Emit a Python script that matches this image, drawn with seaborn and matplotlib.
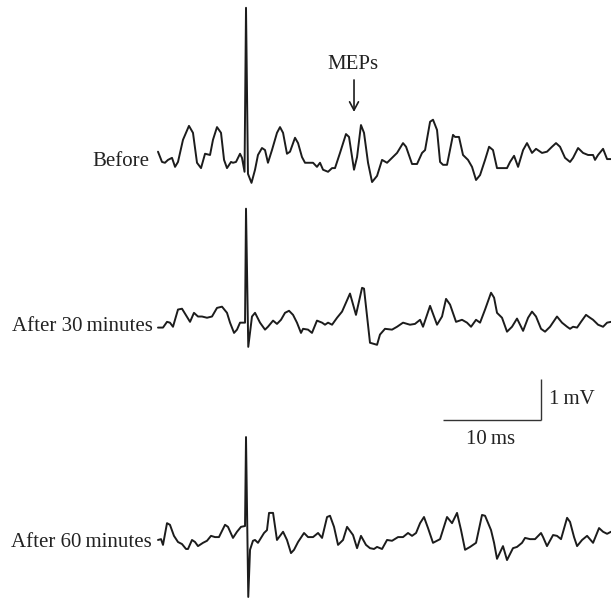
import numpy as np
import pandas as pd
import matplotlib
matplotlib.use("Agg")
import matplotlib.pyplot as plt
import seaborn as sns

# Recorded traces: time (ms, stimulus artefact at 0) and amplitude (mV)
before_t = [-8.98, -8.57, -8.27, -7.96, -7.55, -7.24, -6.94, -6.43, -5.82, -5.41,
            -5.00, -4.59, -4.18, -3.67, -3.37, -2.96, -2.55, -2.24, -1.94, -1.53,
            -1.33, -1.02, -0.61, -0.41, -0.15, 0.00, 0.20, 0.56, 0.92, 1.22,
            1.63, 1.94, 2.24, 2.65, 3.16, 3.47, 3.78, 4.18, 4.49, 5.00,
            5.31, 5.71, 6.02, 6.53, 6.84, 7.24, 7.55, 7.86, 8.37, 8.78,
            9.08, 9.59, 10.20, 10.51, 11.02, 11.33, 11.73, 12.04, 12.45, 12.86,
            13.37, 13.88, 14.39, 14.90, 15.41, 16.02, 16.33, 16.94, 17.45, 17.96,
            18.27, 18.78, 19.08, 19.49, 19.80, 20.10, 20.51, 21.12, 21.33, 21.73,
            22.14, 22.65, 23.06, 23.47, 23.88, 24.39, 24.80, 25.20, 25.61, 26.12,
            26.63, 26.94, 27.35, 27.76, 28.27, 28.67, 29.18, 29.59, 30.20, 30.71,
            31.22, 31.63, 32.04, 32.55, 33.06, 33.37, 33.88, 34.39, 34.90, 35.41,
            35.61, 35.92, 36.43, 36.84, 37.24]
before_v = [0.20, -0.05, -0.07, 0.00, 0.05, -0.17, -0.05, 0.49, 0.83, 0.66,
            -0.07, -0.20, 0.15, 0.12, 0.49, 0.80, 0.66, 0.00, -0.20, -0.05,
            -0.07, -0.05, 0.15, 0.05, -0.29, 3.71, -0.34, -0.56, -0.24, 0.12,
            0.29, 0.24, -0.07, 0.24, 0.66, 0.80, 0.66, 0.15, 0.20, 0.54,
            0.41, 0.07, -0.07, -0.07, -0.07, -0.17, -0.07, -0.24, -0.29, -0.20,
            -0.20, 0.17, 0.63, 0.56, -0.24, 0.07, 0.85, 0.66, -0.07, -0.54,
            -0.39, 0.00, -0.07, 0.05, 0.17, 0.41, 0.32, -0.10, -0.10, 0.17,
            0.24, 0.93, 0.98, 0.73, -0.05, -0.12, -0.12, 0.61, 0.56, 0.56,
            0.12, 0.00, -0.17, -0.49, -0.37, 0.00, 0.32, 0.24, -0.20, -0.20,
            -0.20, -0.05, 0.10, -0.17, 0.24, 0.41, 0.17, 0.27, 0.17, 0.20,
            0.32, 0.41, 0.32, 0.05, -0.05, 0.05, 0.29, 0.17, 0.12, 0.12,
            0.00, 0.12, 0.27, 0.02, 0.02]

after30_t = [-8.98, -8.47, -8.06, -7.76, -7.45, -6.94, -6.53, -5.71, -5.31, -4.90,
             -4.49, -3.98, -3.47, -2.96, -2.45, -1.94, -1.63, -1.22, -0.92, -0.61,
             -0.10, 0.00, 0.23, 0.61, 0.92, 1.43, 1.94, 2.24, 2.76, 3.16,
             3.57, 3.98, 4.39, 4.80, 5.20, 5.61, 5.82, 6.33, 6.73, 7.24,
             7.76, 8.06, 8.37, 8.78, 9.29, 9.80, 10.61, 11.22, 11.84, 12.04,
             12.65, 13.37, 13.67, 14.18, 14.90, 15.41, 16.02, 16.73, 17.24, 17.76,
             18.06, 18.78, 19.49, 20.00, 20.41, 20.82, 21.43, 22.04, 22.55, 22.96,
             23.47, 23.88, 24.39, 25.00, 25.31, 25.61, 26.12, 26.63, 27.14, 27.65,
             27.96, 28.27, 28.78, 29.18, 29.59, 30.10, 30.51, 31.02, 31.73, 32.24,
             32.76, 33.06, 33.37, 33.78, 34.18, 34.69, 35.10, 35.41, 35.92, 36.43,
             36.84, 37.24]
after30_v = [-0.07, -0.07, 0.07, 0.05, -0.05, 0.37, 0.39, 0.07, 0.29, 0.20,
             0.20, 0.17, 0.20, 0.41, 0.44, 0.29, 0.05, -0.20, -0.12, 0.05,
             0.05, 2.83, -0.54, 0.20, 0.29, 0.05, -0.12, -0.05, 0.10, 0.02,
             0.12, 0.29, 0.34, 0.24, 0.05, -0.20, -0.10, -0.12, -0.20, 0.10,
             0.05, 0.00, 0.05, 0.00, 0.17, 0.32, 0.76, 0.24, 0.90, 0.88,
             -0.44, -0.49, -0.24, -0.10, -0.12, -0.05, 0.05, 0.00, 0.02, 0.12,
             -0.05, 0.46, 0.00, 0.20, 0.63, 0.49, 0.07, 0.12, 0.05, -0.05,
             0.12, 0.05, 0.37, 0.78, 0.66, 0.29, 0.17, -0.17, -0.05, 0.15,
             0.00, -0.15, 0.17, 0.32, 0.20, -0.10, -0.17, -0.05, 0.20, 0.05,
             -0.05, -0.10, -0.05, -0.07, 0.07, 0.24, 0.17, 0.12, 0.00, -0.05,
             0.05, 0.07]

after60_t = [-8.98, -8.67, -8.47, -8.06, -7.76, -7.35, -6.94, -6.53, -6.12, -5.92,
             -5.51, -5.20, -4.90, -4.39, -3.98, -3.57, -3.16, -2.76, -2.14, -1.84,
             -1.33, -0.92, -0.51, -0.10, 0.00, 0.23, 0.41, 0.71, 0.92, 1.22,
             1.84, 2.14, 2.35, 2.76, 3.16, 3.78, 4.18, 4.59, 4.90, 5.31,
             5.92, 6.33, 6.84, 7.35, 7.76, 8.27, 8.57, 8.98, 9.39, 9.90,
             10.31, 10.92, 11.33, 11.73, 12.24, 12.65, 13.06, 13.37, 13.88, 14.39,
             14.90, 15.51, 16.02, 16.53, 16.94, 17.35, 17.76, 18.16, 18.57, 19.08,
             19.80, 20.51, 21.02, 21.53, 21.94, 22.35, 22.86, 23.47, 24.08, 24.39,
             25.00, 25.31, 25.61, 26.22, 26.63, 27.24, 27.65, 28.16, 28.47, 28.98,
             29.49, 30.10, 30.31, 30.71, 31.33, 31.73, 32.14, 32.76, 33.06, 33.47,
             33.78, 34.29, 34.80, 35.41, 36.02, 36.43, 36.84, 37.24]
after60_v = [0.00, 0.02, -0.12, 0.41, 0.37, 0.10, -0.05, -0.10, -0.22, -0.22,
             0.00, -0.05, -0.15, -0.07, -0.02, 0.10, 0.07, 0.07, 0.37, 0.32,
             0.05, 0.20, 0.32, 0.34, 2.51, -1.39, -0.24, -0.02, 0.00, -0.07,
             0.17, 0.24, 0.66, 0.66, 0.00, 0.20, 0.00, -0.32, -0.24, -0.05,
             0.17, 0.07, 0.07, 0.17, 0.05, 0.56, 0.59, 0.32, -0.12, 0.00,
             0.32, 0.12, -0.20, 0.10, -0.12, -0.20, -0.22, -0.17, -0.22, 0.00,
             -0.02, 0.07, 0.07, 0.17, 0.10, 0.17, 0.41, 0.56, 0.29, -0.07,
             0.02, 0.56, 0.41, 0.66, 0.24, -0.24, -0.17, -0.07, 0.61, 0.59,
             0.24, -0.07, -0.46, -0.15, -0.49, -0.20, -0.17, -0.07, 0.05, 0.02,
             0.02, 0.17, 0.07, -0.15, 0.12, 0.10, 0.02, 0.54, 0.44, 0.07,
             -0.15, 0.00, 0.10, -0.07, 0.29, 0.20, 0.15, 0.20]

trace_labels = ["Before", "After 30\u2009minutes", "After 60\u2009minutes"]
scale_time_ms = 10
scale_amp_mv = 1

# vertical stacking of the three recordings (mV)
offsets = [0.0, -4.02, -9.27]

sns.set_style("white")
plt.rcParams["font.family"] = ["Liberation Serif", "DejaVu Serif"]

frames = []
for label, t, v, off in zip(trace_labels,
                            [before_t, after30_t, after60_t],
                            [before_v, after30_v, after60_v],
                            offsets):
    frames.append(pd.DataFrame({"time": t,
                                "amp": np.asarray(v) + off,
                                "trace": label}))
df = pd.concat(frames, ignore_index=True)

fig = plt.figure(figsize=(6.11, 5.99), dpi=100)
ax = fig.add_axes([0, 0, 1, 1])

sns.lineplot(data=df, x="time", y="amp", units="trace", estimator=None,
             sort=False, color="#1c1c1c", linewidth=1.4, ax=ax, legend=False)
for line in ax.get_lines():
    line.set_solid_joinstyle("round")
    line.set_solid_capstyle("round")

ax.set_xlim(-25.10, 37.24)
ax.set_ylim(-10.71, 3.90)
ax.set_axis_off()

fs = 15
for label, off, tx in zip(trace_labels, offsets, [-9.9, -9.5, -9.6]):
    ax.text(tx, off - 0.05, label, ha="right", va="center", fontsize=fs,
            color="#222222")

# scale bar
bar_t0, bar_v0 = 20.1, -6.34
ax.plot([bar_t0, bar_t0 + scale_time_ms], [bar_v0, bar_v0],
        color="#333333", linewidth=1.0, solid_capstyle="butt")
ax.plot([bar_t0 + scale_time_ms, bar_t0 + scale_time_ms],
        [bar_v0, bar_v0 + scale_amp_mv],
        color="#333333", linewidth=1.0, solid_capstyle="butt")
ax.text(bar_t0 + scale_time_ms + 0.8, bar_v0 + 0.5 * scale_amp_mv,
        f"{scale_amp_mv}\u2009mV", ha="left", va="center", fontsize=fs,
        color="#222222")
ax.text(bar_t0 + 0.5 * scale_time_ms - 0.1, bar_v0 - 0.47,
        f"{scale_time_ms}\u2009ms", ha="center", va="center", fontsize=fs,
        color="#222222")

# MEP marker
ax.annotate("", xy=(11.02, 1.17), xytext=(11.02, 1.95),
            arrowprops=dict(arrowstyle="->,head_length=0.6,head_width=0.32",
                            color="#1c1c1c", linewidth=1.2,
                            shrinkA=0, shrinkB=0))
ax.text(10.92, 2.32, "MEPs", ha="center", va="center", fontsize=fs,
        color="#222222")

fig.savefig("out.png", dpi=100)
